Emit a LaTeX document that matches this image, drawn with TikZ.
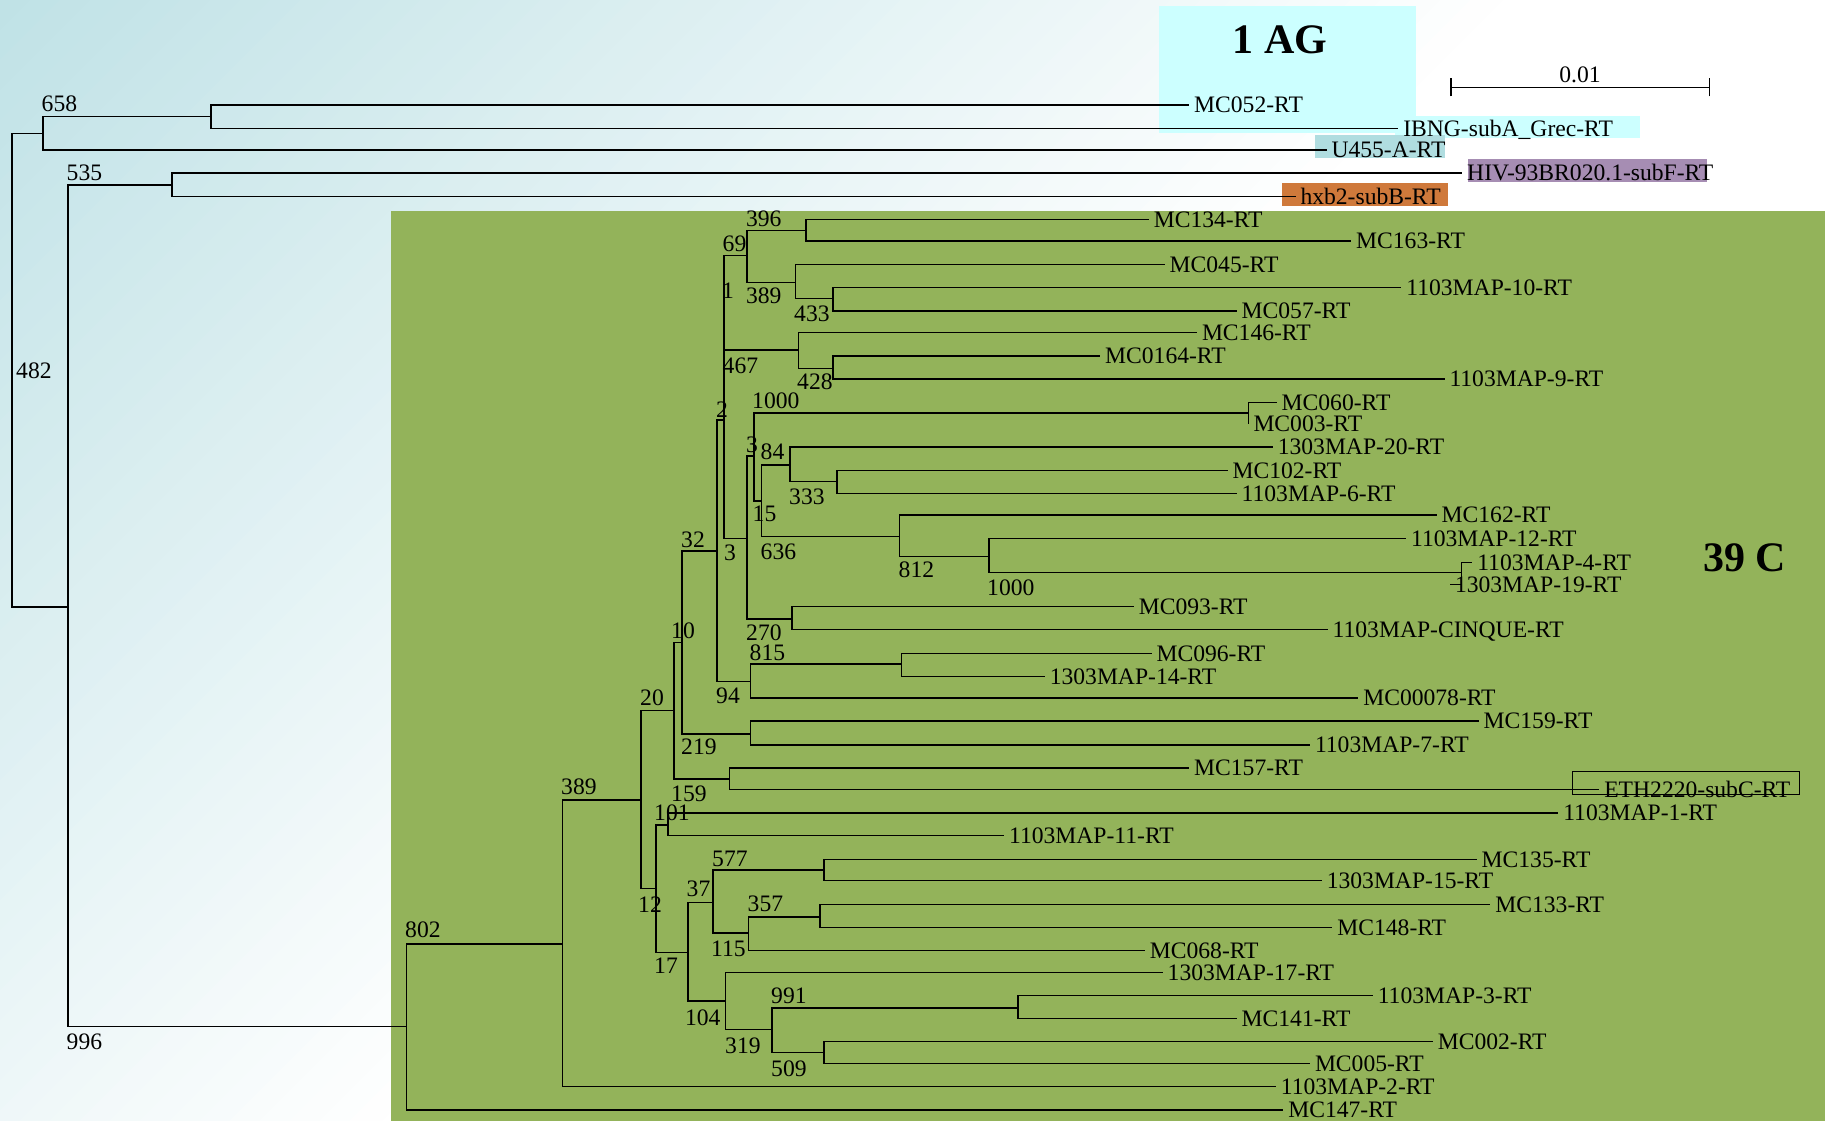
\documentclass[tikz,border=0pt]{standalone}
\usepackage{fontspec}
\setmainfont{Liberation Serif}
\definecolor{bgteal}{RGB}{192,226,230}
\definecolor{cgreen}{RGB}{147,179,90}
\definecolor{ccyan}{RGB}{204,255,255}
\definecolor{cteal}{RGB}{176,221,224}
\definecolor{cpurple}{RGB}{166,141,179}
\definecolor{corange}{RGB}{207,121,59}
\newcommand\leaffont{\fontsize{23.6}{23.6}\selectfont}
\newcommand\bigfont{\fontsize{42}{42}\selectfont\bfseries}
\begin{document}
\begin{tikzpicture}[x=1pt,y=-1pt,
  br/.style={line width=1.5pt},
  leaf/.style={font=\leaffont, inner sep=0pt, outer xsep=5pt, outer ysep=0pt, text height=15.4pt, text depth=0pt, anchor=west},
  boot/.style={font=\leaffont, inner sep=0pt, anchor=base west},
  bigtxt/.style={font=\bigfont, inner sep=0pt, anchor=base}]
\useasboundingbox (0,0) rectangle (1825,1121);
% background gradient
\fill[white] (0,0) rectangle (1825,1121);
\begin{scope}
\clip (0,0) rectangle (1825,1121);
\foreach \i in {0,...,49}{
  \pgfmathtruncatemacro\p{\i*2}
  \fill[white!\p!bgteal] (\i*30,0) -- (\i*30+32,0) -- (\i*30+32-1300,1300) -- (\i*30-1300,1300) -- cycle;
}
\end{scope}
% coloured areas
\fill[cgreen] (391,211) rectangle (1825,1121);
\fill[ccyan] (1159,6) rectangle (1416,132.7);
\fill[ccyan] (1395,115.7) rectangle (1639.5,137.7);
\fill[cteal] (1315,135) rectangle (1444.5,157.7);
\fill[cpurple] (1467.7,159.3) rectangle (1707,181.7);
\fill[corange] (1282.2,183) rectangle (1447.7,205.7);
% titles and scale
\node[bigtxt] (tAG) at (1280,54) {1 AG};
\node[bigtxt] (tC) at (1744.6,571.7) {39 C};
\coordinate (sbA) at (1451.2,87.3);
\coordinate (sbB) at (1709.7,87.3);
\draw[br] (sbA) -- (sbB);
\draw[br] ([yshift=-9pt]sbA) -- ([yshift=9pt]sbA);
\draw[br] ([yshift=-9pt]sbB) -- ([yshift=9pt]sbB);
\node[font=\leaffont, inner sep=0pt, anchor=base] (sbl) at (1580,83) {0.01};
% internal nodes
\coordinate (r) at (12,370);
\coordinate (n658) at (43,133.3);
\coordinate (n658a) at (211,116.5);
\coordinate (n996) at (68,607);
\coordinate (n535) at (172,185);
\coordinate (n802) at (406.5,1026.5);
\coordinate (n389) at (562.5,944);
\coordinate (n20) at (641,800);
\coordinate (n10) at (674,710.7);
\coordinate (n32) at (682.2,642.3);
\coordinate (nC) at (717,551);
\coordinate (nD) at (723.8,420);
\coordinate (nA) at (723.8,303);
\coordinate (n69) at (747.1,255.7);
\coordinate (n396) at (806,230.3);
\coordinate (n389b) at (795.3,282.3);
\coordinate (n433) at (832.9,298.3);
\coordinate (n467) at (798.5,350);
\coordinate (n428) at (832.9,368.3);
\coordinate (nE) at (747.1,538.3);
\coordinate (nF) at (753.8,456);
\coordinate (n1000a) at (1248.5,413);
\coordinate (nG) at (761.7,501);
\coordinate (n84) at (790.2,465);
\coordinate (n333) at (836.9,481.3);
\coordinate (n636) at (899.3,536.7);
\coordinate (n812) at (989.1,556.3);
\coordinate (n1000b) at (1461.7,572.7);
\coordinate (n270) at (791.8,619);
\coordinate (n94) at (750.7,681.7);
\coordinate (n815) at (901.3,664);
\coordinate (n219) at (750.7,734);
\coordinate (n159) at (729.3,779);
\coordinate (n12) at (655.8,888.3);
\coordinate (n101) at (668,825);
\coordinate (n17) at (687.8,952.3);
\coordinate (n37) at (713.1,902.3);
\coordinate (n577) at (824.2,870);
\coordinate (n115) at (748.7,933);
\coordinate (n357) at (820.2,917);
\coordinate (n104) at (725.7,1001);
\coordinate (n319) at (772,1029.3);
\coordinate (n991) at (1018,1008);
\coordinate (n509) at (824.2,1052.7);
% leaves
\node[leaf] (lMC052) at (1189.2,105) {MC052-RT};
\node[leaf] (lIBNG) at (1398.3,128.3) {IBNG-subA\_Grec-RT};
\node[leaf] (lU455) at (1326.5,150) {U455-A-RT};
\node[leaf] (lHIV) at (1462.2,173) {HIV-93BR020.1-subF-RT};
\node[leaf] (lhxb2) at (1295.5,196.7) {hxb2-subB-RT};
\node[leaf] (lMC134) at (1148.8,219.7) {MC134-RT};
\node[leaf] (lMC163) at (1351.2,241) {MC163-RT};
\node[leaf] (lMC045) at (1164.7,264.3) {MC045-RT};
\node[leaf] (lM10) at (1401.4,287.7) {1103MAP-10-RT};
\node[leaf] (lMC057) at (1236.7,311) {MC057-RT};
\node[leaf] (lMC146) at (1197,332.3) {MC146-RT};
\node[leaf] (lMC0164) at (1100.2,356) {MC0164-RT};
\node[leaf] (lM9) at (1444.5,379) {1103MAP-9-RT};
\node[leaf] (lMC060) at (1276.7,402.7) {MC060-RT};
\node[leaf] (lMC003) at (1248.5,424) {MC003-RT};
\node[leaf] (lP20) at (1272.8,447) {1303MAP-20-RT};
\node[leaf] (lMC102) at (1227.6,470.3) {MC102-RT};
\node[leaf] (lM6) at (1236.7,493.5) {1103MAP-6-RT};
\node[leaf] (lMC162) at (1436.7,515) {MC162-RT};
\node[leaf] (lM12) at (1406.1,538.3) {1103MAP-12-RT};
\node[leaf] (lM4) at (1472.3,562.3) {1103MAP-4-RT};
\node[leaf] (lP19) at (1450,584.3) {1303MAP-19-RT};
\node[leaf] (lMC093) at (1133.8,606.7) {MC093-RT};
\node[leaf] (lCIN) at (1327.7,629.7) {1103MAP-CINQUE-RT};
\node[leaf] (lMC096) at (1151.6,653.3) {MC096-RT};
\node[leaf] (lP14) at (1044.8,676.7) {1303MAP-14-RT};
\node[leaf] (lMC78) at (1358.3,698) {MC00078-RT};
\node[leaf] (lMC159) at (1478.7,721) {MC159-RT};
\node[leaf] (lM7) at (1310,745) {1103MAP-7-RT};
\node[leaf] (lMC157) at (1189.2,768) {MC157-RT};
\node[leaf] (lETH) at (1599.3,789.3) {ETH2220-subC-RT};
\node[leaf] (lM1) at (1558.3,813) {1103MAP-1-RT};
\node[leaf] (lM11) at (1004.1,835.7) {1103MAP-11-RT};
\node[leaf] (lMC135) at (1476.7,859.3) {MC135-RT};
\node[leaf] (lP15) at (1321.8,880.7) {1303MAP-15-RT};
\node[leaf] (lMC133) at (1490.4,904.3) {MC133-RT};
\node[leaf] (lMC148) at (1332.4,927.3) {MC148-RT};
\node[leaf] (lMC068) at (1144.9,950.7) {MC068-RT};
\node[leaf] (lP17) at (1162.7,972.3) {1303MAP-17-RT};
\node[leaf] (lM3) at (1372.8,995.7) {1103MAP-3-RT};
\node[leaf] (lMC141) at (1236.7,1018.7) {MC141-RT};
\node[leaf] (lMC002) at (1432.8,1041.7) {MC002-RT};
\node[leaf] (lMC005) at (1310,1063.7) {MC005-RT};
\node[leaf] (lM2) at (1275.9,1086.7) {1103MAP-2-RT};
\node[leaf] (lMC147) at (1283.3,1110) {MC147-RT};
% ETH box
\draw[br] (1572.3,771.7) rectangle (1799.3,794.3);
% branches
\draw[br] (r) |- (n658); \draw[br] (r) |- (n996);
\draw[br] (n658) |- (n658a); \draw[br] (n658) |- (lU455.west);
\draw[br] (n658a) |- (lMC052.west); \draw[br] (n658a) |- (lIBNG.west);
\draw[br] (n996) |- (n535); \draw[br] (n996) |- (n802);
\draw[br] (n535) |- (lHIV.west); \draw[br] (n535) |- (lhxb2.west);
\draw[br] (n802) |- (n389); \draw[br] (n802) |- (lMC147.west);
\draw[br] (n389) |- (n20); \draw[br] (n389) |- (lM2.west);
\draw[br] (n20) |- (n10); \draw[br] (n20) |- (n12);
\draw[br] (n10) |- (n32); \draw[br] (n10) |- (n159);
\draw[br] (n32) |- (nC); \draw[br] (n32) |- (n219);
\draw[br] (nC) |- (nD); \draw[br] (nC) |- (n94);
\draw[br] (nD) |- (nA); \draw[br] (nD) |- (nE);
\draw[br] (nA) |- (n69); \draw[br] (nA) |- (n467);
\draw[br] (n69) |- (n396); \draw[br] (n69) |- (n389b);
\draw[br] (n396) |- (lMC134.west); \draw[br] (n396) |- (lMC163.west);
\draw[br] (n389b) |- (lMC045.west); \draw[br] (n389b) |- (n433);
\draw[br] (n433) |- (lM10.west); \draw[br] (n433) |- (lMC057.west);
\draw[br] (n467) |- (lMC146.west); \draw[br] (n467) |- (n428);
\draw[br] (n428) |- (lMC0164.west); \draw[br] (n428) |- (lM9.west);
\draw[br] (nE) |- (nF); \draw[br] (nE) |- (n270);
\draw[br] (nF) |- (n1000a); \draw[br] (nF) |- (nG);
\draw[br] (n1000a) |- (lMC060.west); \draw[br] (n1000a) |- (lMC003.west);
\draw[br] (nG) |- (n84); \draw[br] (nG) |- (n636);
\draw[br] (n84) |- (lP20.west); \draw[br] (n84) |- (n333);
\draw[br] (n333) |- (lMC102.west); \draw[br] (n333) |- (lM6.west);
\draw[br] (n636) |- (lMC162.west); \draw[br] (n636) |- (n812);
\draw[br] (n812) |- (lM12.west); \draw[br] (n812) |- (n1000b);
\draw[br] (n1000b) |- (lM4.west); \draw[br] (n1000b) |- (lP19.west);
\draw[br] (n270) |- (lMC093.west); \draw[br] (n270) |- (lCIN.west);
\draw[br] (n94) |- (n815); \draw[br] (n94) |- (lMC78.west);
\draw[br] (n815) |- (lMC096.west); \draw[br] (n815) |- (lP14.west);
\draw[br] (n219) |- (lMC159.west); \draw[br] (n219) |- (lM7.west);
\draw[br] (n159) |- (lMC157.west); \draw[br] (n159) |- (lETH.west);
\draw[br] (n12) |- (n101); \draw[br] (n12) |- (n17);
\draw[br] (n101) |- (lM1.west); \draw[br] (n101) |- (lM11.west);
\draw[br] (n17) |- (n37); \draw[br] (n17) |- (n104);
\draw[br] (n37) |- (n577); \draw[br] (n37) |- (n115);
\draw[br] (n577) |- (lMC135.west); \draw[br] (n577) |- (lP15.west);
\draw[br] (n115) |- (n357); \draw[br] (n115) |- (lMC068.west);
\draw[br] (n357) |- (lMC133.west); \draw[br] (n357) |- (lMC148.west);
\draw[br] (n104) |- (lP17.west); \draw[br] (n104) |- (n319);
\draw[br] (n319) |- (n991); \draw[br] (n319) |- (n509);
\draw[br] (n991) |- (lM3.west); \draw[br] (n991) |- (lMC141.west);
\draw[br] (n509) |- (lMC002.west); \draw[br] (n509) |- (lMC005.west);
% bootstrap values
\node[boot] (b658) at (41.5,111.7) {658};
\node[boot] (b535) at (66.5,180) {535};
\node[boot] (b482) at (16,378) {482};
\node[boot] (b996) at (66.5,1049) {996};
\node[boot] (b802) at (405,937.7) {802};
\node[boot] (b389) at (561,794.3) {389};
\node[boot] (b396) at (745.8,226.7) {396};
\node[boot] (b69) at (722.5,251.7) {69};
\node[boot] (b1) at (722,298.3) {1};
\node[boot] (b389b) at (745.8,303.3) {389};
\node[boot] (b433) at (794,321.7) {433};
\node[boot] (b467) at (722.5,373.3) {467};
\node[boot] (b428) at (797,389) {428};
\node[boot] (b1000a) at (752,408) {1000};
\node[boot] (b2) at (716,417) {2};
\node[boot] (b3a) at (746,452) {3};
\node[boot] (b84) at (760.5,459) {84};
\node[boot] (b333) at (789,504) {333};
\node[boot] (b15) at (752.5,521.7) {15};
\node[boot] (b3b) at (724,560) {3};
\node[boot] (b636) at (760.5,559) {636};
\node[boot] (b32) at (681,547) {32};
\node[boot] (b812) at (898.5,577.3) {812};
\node[boot] (b1000b) at (987,595) {1000};
\node[boot] (b10) at (671,638) {10};
\node[boot] (b270) at (746,640) {270};
\node[boot] (b815) at (749.5,660) {815};
\node[boot] (b94) at (716,703) {94};
\node[boot] (b20) at (640,705) {20};
\node[boot] (b219) at (681,754) {219};
\node[boot] (b159) at (671,801.7) {159};
\node[boot] (b101) at (654,820) {101};
\node[boot] (b577) at (712,866.7) {577};
\node[boot] (b37) at (686.5,896.7) {37};
\node[boot] (b357) at (747.5,911.7) {357};
\node[boot] (b12) at (638,912) {12};
\node[boot] (b115) at (711,956.7) {115};
\node[boot] (b17) at (654,973) {17};
\node[boot] (b991) at (771,1003.3) {991};
\node[boot] (b104) at (684.8,1025) {104};
\node[boot] (b319) at (725,1053.3) {319};
\node[boot] (b509) at (771,1076.7) {509};
\end{tikzpicture}
\end{document}
